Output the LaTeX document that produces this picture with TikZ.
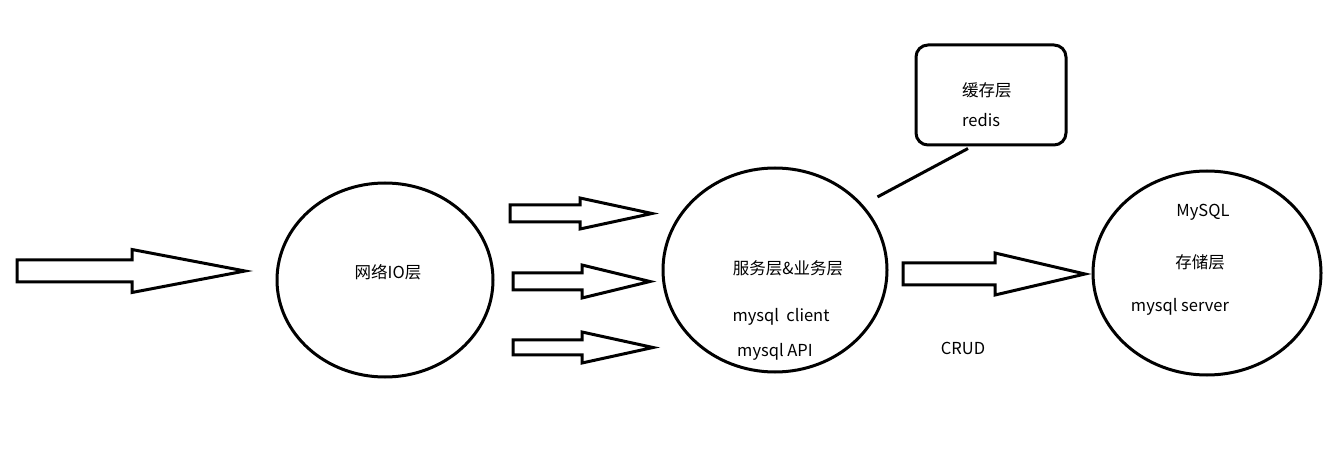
\documentclass[tikz,border=0pt]{standalone}
\usepackage{fontspec}
\setmainfont{Noto Sans CJK SC}
\usetikzlibrary{shapes.geometric, calc}
\tikzset{
    layer/.style={draw, ellipse, line width=3pt, inner sep=0pt},
    cachebox/.style={draw, line width=3pt, rounded corners=12pt, inner sep=0pt},
    txt/.style={font=\fontsize{16.5}{19}\selectfont, inner sep=0pt},
    fat/.style={draw, line width=3pt, line join=miter, fill=white}
}
% left x, mid y, body half, head base x, head half, tip x
\newcommand{\fatarrow}[6]{%
    \draw[fat] (#1,#2-#3) -- (#4,#2-#3) -- (#4,#2-#5) -- (#6,#2)
        -- (#4,#2+#5) -- (#4,#2+#3) -- (#1,#2+#3) -- cycle;}

\begin{document}
\begin{tikzpicture}[x=1pt, y=-1pt]
    \useasboundingbox (0,0) rectangle (1339,454);
    % layers
    \node [layer, minimum width=216pt, minimum height=194pt] (net) at (385,280) {};
    \node [layer, minimum width=224pt, minimum height=204pt] (svc) at (775,270) {};
    \node [layer, minimum width=228pt, minimum height=204pt] (store) at (1207,273) {};
    \node [cachebox, minimum width=150pt, minimum height=100pt] (cache) at (991,95) {};
    % texts
    \node [txt] (netT) at (388,272) {网络IO层};
    \node [txt] (svcT) at (788,268) {服务层\&业务层};
    \node [txt] (cliT) at (781,317) {mysql\ \ client};
    \node [txt] (apiT) at (775,352) {mysql API};
    \node [txt, anchor=west] (cacheT) at (962,90) {缓存层};
    \node [txt, anchor=west] (redisT) at (962,120) {redis};
    \node [txt] (sqlT) at (1203,212) {MySQL};
    \node [txt] (storeT) at (1200,262) {存储层};
    \node [txt] (srvT) at (1180,307) {mysql server};
    \node [txt] (crud) at (963,348) {CRUD};
    % arrows
    \fatarrow{17}{271}{11}{132}{21.5}{245}
    \fatarrow{510}{213.5}{8.5}{580}{15.5}{652}
    \fatarrow{513}{281.5}{8.5}{582}{16.5}{650}
    \fatarrow{513}{347.5}{7.5}{582}{15.5}{653}
    \fatarrow{903}{274}{11}{995}{21}{1085}
    \draw [line width=3pt] ([shift={(19,-3)}]svc.40) -- ([shift={(-23,2)}]cache.south);
\end{tikzpicture}
\end{document}
